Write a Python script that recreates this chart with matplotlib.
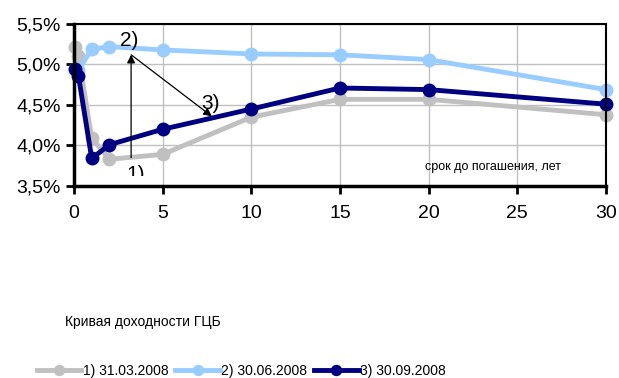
import matplotlib.pyplot as plt
from matplotlib.transforms import Bbox, TransformedBbox
from matplotlib.ticker import FuncFormatter

plt.rcParams['font.family'] = ['Liberation Sans', 'DejaVu Sans']

# срок до погашения, лет
maturity = [0.08, 0.25, 1, 2, 5, 10, 15, 20, 30]

# доходность, %
yield_mar = [5.21, 5.11, 4.09, 3.83, 3.89, 4.35, 4.57, 4.57, 4.38]
yield_jun = [4.95, 4.93, 5.19, 5.22, 5.18, 5.13, 5.12, 5.06, 4.69]
yield_sep = [4.95, 4.86, 3.84, 4.01, 4.20, 4.45, 4.71, 4.69, 4.51]

labels = ['1) 31.03.2008', '2) 30.06.2008', '3) 30.09.2008']
colors = ['#C0C0C0', '#99CCFF', '#000080']

fig = plt.figure(figsize=(6.19, 3.78), dpi=100)
ax = fig.add_axes([74 / 619, 0.508, 532 / 619, 0.4285])

for y, lab, c in zip([yield_mar, yield_jun, yield_sep], labels, colors):
    ax.plot(maturity, y, color=c, lw=3.5, marker='o', ms=9, label=lab, clip_on=False)

ax.set_xlim(0, 30)
ax.set_ylim(3.5, 5.5)
ax.set_xticks(range(0, 31, 5))
ax.set_yticks([3.5, 4.0, 4.5, 5.0, 5.5])
ax.yaxis.set_major_formatter(FuncFormatter(lambda v, p: f'{v:.1f}%'.replace('.', ',')))
ax.tick_params(labelsize=14, width=2, length=6, direction='out', color='black')
ax.tick_params(axis='x', pad=8)
ax.grid(True, color='#C0C0C0', lw=1)
ax.set_axisbelow(True)
for s in ['left', 'bottom']:
    ax.spines[s].set_linewidth(2.5)
for s in ['top', 'right']:
    ax.spines[s].set_linewidth(1.5)

# подписи и стрелки
ax.text(3.12, 5.30, '2)', fontsize=15, ha='center', va='center')
ax.text(7.7, 4.52, '3)', fontsize=15, ha='center', va='center')
t1 = ax.text(3.49, 3.64, '1)', fontsize=15, ha='center', va='center', clip_on=True)
t1.set_clip_box(TransformedBbox(Bbox([[0, 3.62], [30, 5.5]]), ax.transData))
arrow = dict(arrowstyle='-|>', color='black', lw=0.9, shrinkA=0, shrinkB=0, mutation_scale=12)
ax.annotate('', xy=(3.22, 5.12), xytext=(3.22, 3.85), arrowprops=arrow)
ax.annotate('', xy=(7.77, 4.36), xytext=(3.22, 5.12), arrowprops=arrow)

ax.text(23.6, 3.73, 'срок до погашения, лет', fontsize=9, ha='center', va='center')

fig.text(65 / 619, 1 - 322 / 378, 'Кривая доходности ГЦБ', fontsize=10, va='center')
fig.legend(loc='center', bbox_to_anchor=(0.39, 0.018), ncol=3, frameon=False,
           fontsize=10, handlelength=3.2, columnspacing=0.5, handletextpad=0.1,
           markerscale=0.8)

fig.savefig('out.png', dpi=100)
